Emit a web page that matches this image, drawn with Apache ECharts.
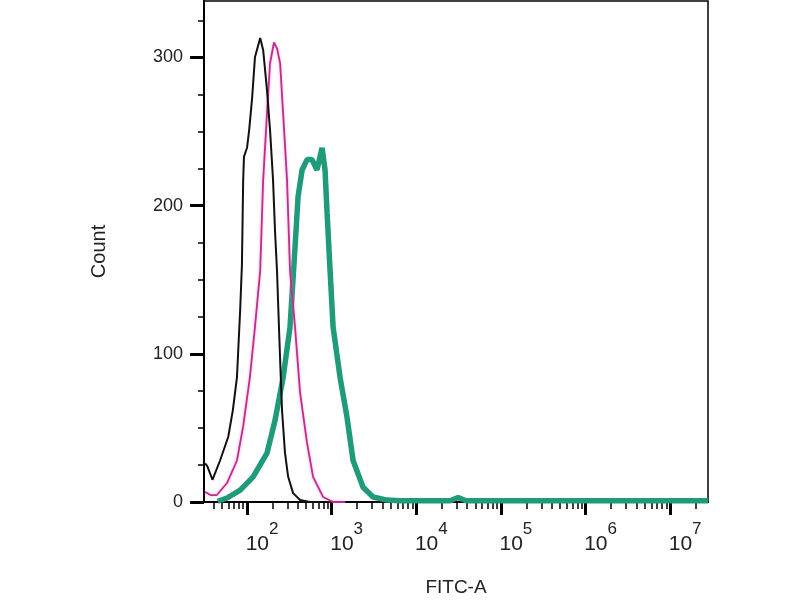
<!DOCTYPE html>
<html>
<head>
<meta charset="utf-8">
<script src="https://cdn.jsdelivr.net/npm/echarts@6/dist/echarts.min.js"></script>
<style>
  html, body { margin: 0; padding: 0; background: #fff; }
  #chart { width: 800px; height: 600px; }
</style>
</head>
<body>
<div id="chart"></div>
<script>
// FITC-A intensity (x) and event counts (y)
var blackX = [32, 34, 39, 40, 48, 60, 68, 76, 83, 87, 90, 92, 100, 106, 115, 124, 143, 155, 172, 187, 203, 214, 226, 239, 246, 259, 281, 306, 350, 423, 555, 730];
var blackY = [26, 24, 15, 16, 28, 44, 62, 84, 130, 160, 217, 233, 239, 251, 273, 300, 313, 305, 278, 251, 217, 183, 156, 116, 96, 62, 33, 17, 6, 1.3, 0, 0];

var pinkX = [32, 37, 44, 58, 76, 90, 108, 124, 143, 155, 172, 187, 208, 226, 246, 267, 297, 322, 369, 423, 511, 603, 791, 1040, 1440];
var pinkY = [6.7, 4.7, 4.7, 12.8, 28, 51, 84, 118, 156, 217, 262, 296, 310, 306, 296, 262, 217, 156, 118, 74, 40, 17, 3.4, 0, 0];

var tealX = [45, 58, 83, 118, 172, 214, 267, 322, 369, 401, 447, 512, 586, 671, 770, 835, 883, 958, 1040, 1257, 1520, 1791, 2350, 3085, 4515, 6442, 25100, 31200, 38800, 28000000];
var tealY = [0.5, 2.7, 8, 17, 33, 55, 84, 118, 172, 206, 224, 231, 231, 224, 239, 224, 195, 156, 118, 84, 57, 28, 10, 3.4, 1.3, 0.8, 0.8, 3, 0.8, 0.8];

var xMajor = [100, 1000, 10000, 100000, 1000000, 10000000];
var yMajor = [0, 100, 200, 300];
var yMinor = [25, 50, 75, 125, 150, 175, 225, 250, 275, 325];

function pairs(xs, ys) {
  var out = [];
  for (var i = 0; i < xs.length; i++) out.push([xs[i], ys[i]]);
  return out;
}

// minor log ticks 2..9 x 10^k
var xMinor = [];
for (var k = 1; k <= 7; k++) {
  for (var m = 2; m <= 9; m++) xMinor.push(m * Math.pow(10, k));
}

var X_MIN = 31, X_MAX = 28000000, Y_MAX = 338;
var font = 'Liberation Sans, Arial, sans-serif';

var myChart = echarts.init(document.getElementById('chart'));
var option = {
  animation: false,
  backgroundColor: '#fff',
  grid: {
    left: 204,
    right: 92,
    top: 1,
    bottom: 98,
    outerBoundsMode: 'none',
    containLabel: false,
    show: true,
    borderColor: '#000',
    borderWidth: 1.5
  },
  xAxis: [{
    type: 'log',
    logBase: 10,
    min: X_MIN,
    max: X_MAX,
    name: 'FITC-A',
    nameLocation: 'middle',
    nameGap: 76,
    nameTextStyle: { fontFamily: font, fontSize: 19, color: '#222' },
    axisLine: { lineStyle: { color: '#000', width: 2 } },
    axisTick: { customValues: xMajor, length: 13, lineStyle: { color: '#000', width: 3 } },
    axisLabel: {
      customValues: xMajor,
      margin: 19,
      padding: [0, 0, 0, 30],
      formatter: function(v) {
        return '{b|10}{s|' + Math.round(Math.log10(v)) + '}';
      },
      rich: {
        b: { fontFamily: font, fontSize: 21, color: '#222', verticalAlign: 'bottom', lineHeight: 34 },
        s: { fontFamily: font, fontSize: 17, color: '#222', verticalAlign: 'top', lineHeight: 34 }
      }
    },
    splitLine: { show: false }
  }, {
    // minor ticks only
    type: 'log',
    logBase: 10,
    min: X_MIN,
    max: X_MAX,
    position: 'bottom',
    axisLine: { show: false },
    axisTick: { customValues: xMinor, length: 7, lineStyle: { color: '#000', width: 1.5 } },
    axisLabel: { show: false },
    splitLine: { show: false }
  }],
  yAxis: [{
    type: 'value',
    min: 0,
    max: Y_MAX,
    name: 'Count',
    nameLocation: 'middle',
    nameGap: 95,
    nameRotate: 90,
    nameTextStyle: { fontFamily: font, fontSize: 20, color: '#222' },
    axisLine: { show: true, lineStyle: { color: '#000', width: 2 } },
    axisTick: { show: true, customValues: yMajor, length: 14, lineStyle: { color: '#000', width: 3 } },
    axisLabel: { customValues: yMajor, margin: 21, fontFamily: font, fontSize: 18, color: '#222' },
    splitLine: { show: false }
  }, {
    type: 'value',
    min: 0,
    max: Y_MAX,
    position: 'left',
    axisLine: { show: false },
    axisTick: { show: true, customValues: yMinor, length: 6, lineStyle: { color: '#000', width: 1.5 } },
    axisLabel: { show: false },
    splitLine: { show: false }
  }],
  series: [{
    name: 'stained',
    type: 'line',
    showSymbol: false,
    data: pairs(tealX, tealY),
    lineStyle: { color: '#1f9a7a', width: 5.5 },
    z: 3
  }, {
    name: 'isotype',
    type: 'line',
    showSymbol: false,
    data: pairs(pinkX, pinkY),
    lineStyle: { color: '#bd2f8c', width: 1.8, shadowColor: 'rgba(240,130,200,0.7)', shadowBlur: 3 },
    z: 4
  }, {
    name: 'unstained',
    type: 'line',
    showSymbol: false,
    data: pairs(blackX, blackY),
    lineStyle: { color: '#111', width: 2 },
    z: 5
  }]
};
myChart.setOption(option);
</script>
</body>
</html>
